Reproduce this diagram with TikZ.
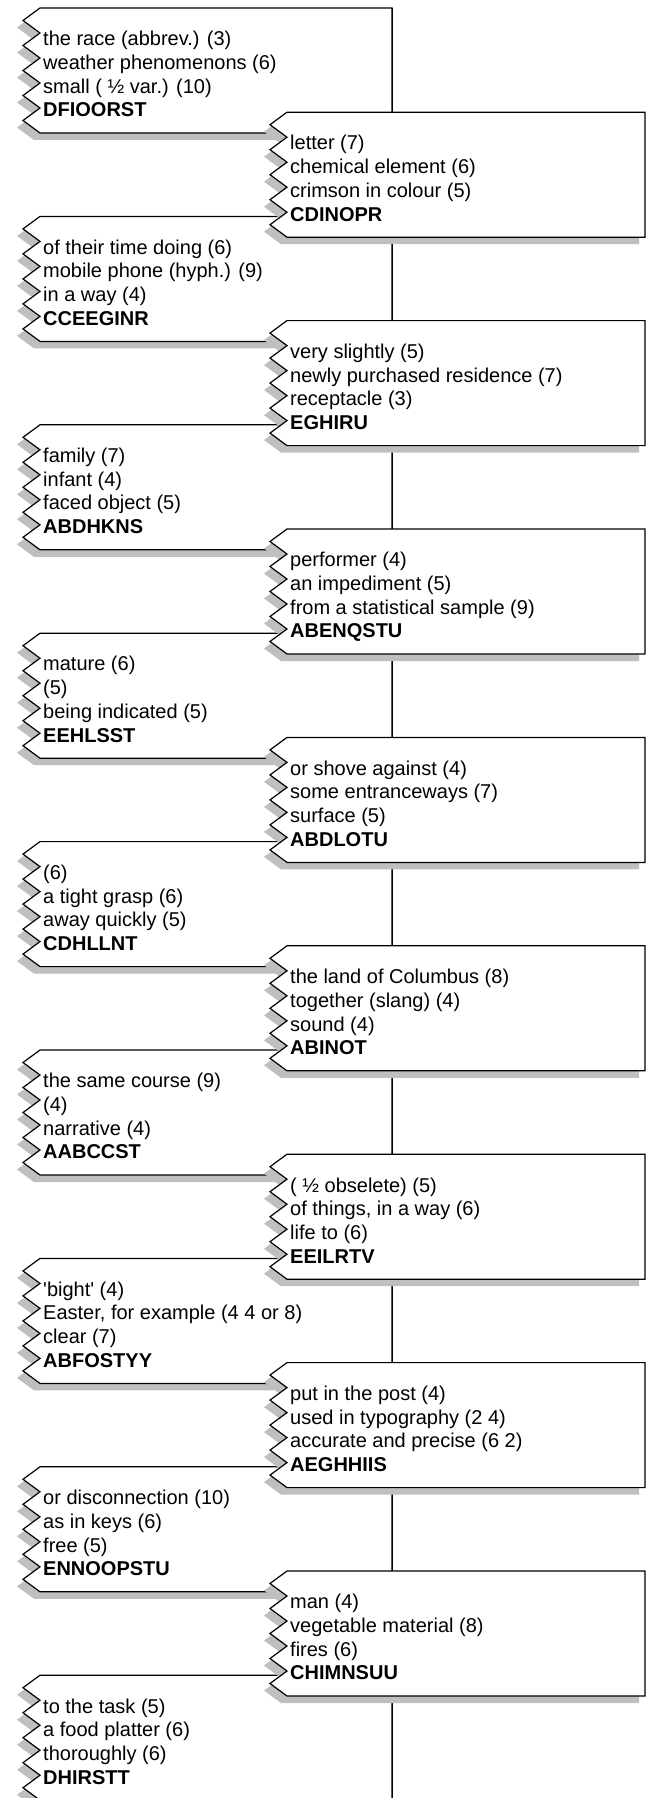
\documentclass[tikz,border=0pt]{standalone}
\usepackage{fontspec}
\setmainfont{Liberation Sans}

\newcommand{\tornframe}[3]{(#1,#2) -- ++(#3,0) -- ++(0,125) -- ++(-#3,0)
  \foreach \k in {1,...,5}{ -- ++(-17,-12.5) -- ++(17,-12.5)} -- cycle}

\newcommand{\cluebox}[5]{%
  \fill[clueshadow] \tornframe{#2}{#3}{#4};
  \draw[clueframe] \tornframe{#2}{#3}{#4};
  \coordinate (#1-ne) at (#2+#4,#3);
  \node[cluetext] (#1) at (#2+3,#3+21) {\strut #5};
}

\begin{document}
\begin{tikzpicture}[x=1pt, y=-1pt,
    clueframe/.style={draw=black, fill=white, line width=1.2pt, line join=miter},
    clueshadow/.style={fill=black!25, xshift=-6pt, yshift=-7pt},
    cluetext/.style={anchor=north west, inner sep=0pt, align=left,
      font=\fontsize{20}{23.7}\selectfont},
    link/.style={draw=black, line width=1pt}]

    \useasboundingbox (0,0) rectangle (651,1798);

    \cluebox{l1}{40}{8}{352}{the race (abbrev.) (3)\\weather phenomenons (6)\\small ( ½ var.) (10)\\\textbf{DFIOORST}}
    \cluebox{l3}{40}{216.4}{352}{of their time doing (6)\\mobile phone (hyph.) (9)\\in a way (4)\\\textbf{CCEEGINR}}
    \cluebox{l5}{40}{424.8}{352}{family (7)\\infant (4)\\faced object (5)\\\textbf{ABDHKNS}}
    \cluebox{l7}{40}{633.2}{352}{mature (6)\\(5)\\being indicated (5)\\\textbf{EEHLSST}}
    \cluebox{l9}{40}{841.6}{352}{(6)\\a tight grasp (6)\\away quickly (5)\\\textbf{CDHLLNT}}
    \cluebox{l11}{40}{1050}{352}{the same course (9)\\(4)\\narrative (4)\\\textbf{AABCCST}}
    \cluebox{l13}{40}{1258.4}{352}{\textquotesingle bight\textquotesingle{} (4)\\Easter, for example (4 4 or 8)\\clear (7)\\\textbf{ABFOSTYY}}
    \cluebox{l15}{40}{1466.8}{352}{or disconnection (10)\\as in keys (6)\\free (5)\\\textbf{ENNOOPSTU}}
    \cluebox{l17}{40}{1675.2}{352}{to the task (5)\\a food platter (6)\\thoroughly (6)\\\textbf{DHIRSTT}}

    \coordinate (foot) at (392,1798);
    \draw[link] (l1-ne) -- (foot);

    \cluebox{r2}{287}{112.2}{358}{letter (7)\\chemical element (6)\\crimson in colour (5)\\\textbf{CDINOPR}}
    \cluebox{r4}{287}{320.6}{358}{very slightly (5)\\newly purchased residence (7)\\receptacle (3)\\\textbf{EGHIRU}}
    \cluebox{r6}{287}{529}{358}{performer (4)\\an impediment (5)\\from a statistical sample (9)\\\textbf{ABENQSTU}}
    \cluebox{r8}{287}{737.4}{358}{or shove against (4)\\some entranceways (7)\\surface (5)\\\textbf{ABDLOTU}}
    \cluebox{r10}{287}{945.8}{358}{the land of Columbus (8)\\together (slang) (4)\\sound (4)\\\textbf{ABINOT}}
    \cluebox{r12}{287}{1154.2}{358}{( ½ obselete) (5)\\of things, in a way (6)\\life to (6)\\\textbf{EEILRTV}}
    \cluebox{r14}{287}{1362.6}{358}{put in the post (4)\\used in typography (2 4)\\accurate and precise (6 2)\\\textbf{AEGHHIIS}}
    \cluebox{r16}{287}{1571}{358}{man (4)\\vegetable material (8)\\fires (6)\\\textbf{CHIMNSUU}}

  \end{tikzpicture}
\end{document}
